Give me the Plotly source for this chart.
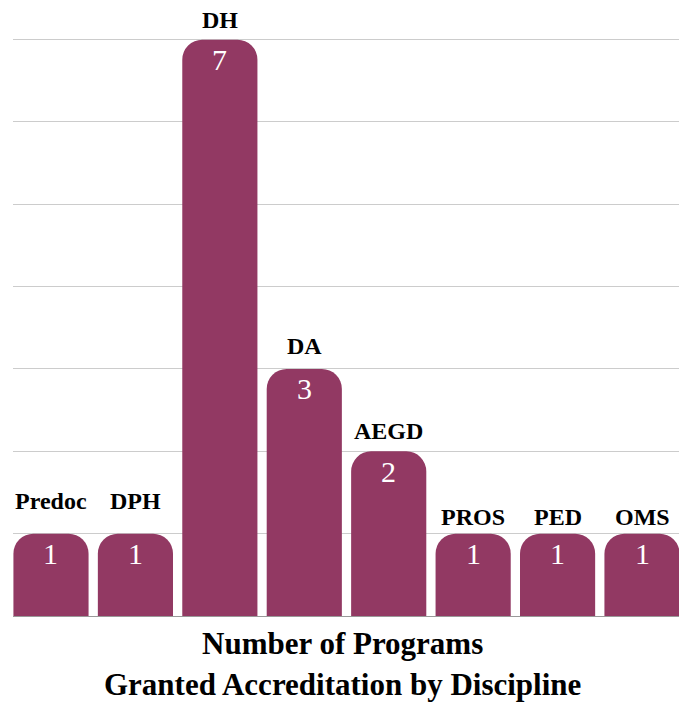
import plotly.graph_objects as go

categories = ["Predoc", "DPH", "DH", "DA", "AEGD", "PROS", "PED", "OMS"]
values = [1, 1, 7, 3, 2, 1, 1, 1]
title_lines = ["Number of Programs", "Granted Accreditation by Discipline"]

bar_color = "#923963"
serif = "Liberation Serif"
label_shift = [33, 33, 20, 23, 20, 17, 17, 17]

fig = go.Figure()
fig.add_trace(go.Bar(
    x=categories, y=values,
    marker=dict(color=bar_color, cornerradius=20, line=dict(width=0)),
    hoverinfo="skip",
))

annotations = []
for c, v, s in zip(categories, values, label_shift):
    annotations.append(dict(
        x=c, y=v, xref="x", yref="y", text=c, showarrow=False,
        yanchor="middle", yshift=s,
        font=dict(family=serif, size=24, color="black", weight="bold"),
    ))
    annotations.append(dict(
        x=c, y=v, xref="x", yref="y", text=str(v), showarrow=False,
        yanchor="middle", yshift=-20,
        font=dict(family=serif, size=30, color="white"),
    ))
for txt, yy in zip(title_lines, [-0.047, -0.118]):
    annotations.append(dict(
        text=txt, xref="paper", yref="paper", x=0.494, y=yy,
        yanchor="middle", showarrow=False,
        font=dict(family=serif, size=31, color="black", weight="bold"),
    ))

fig.update_layout(
    width=679, height=696,
    margin=dict(l=5, r=7, t=30, b=88),
    plot_bgcolor="white", paper_bgcolor="white",
    showlegend=False, bargap=0.11,
    xaxis=dict(range=[-0.45, 7.45], showticklabels=False, showgrid=False,
               zeroline=False, showline=False, ticks=""),
    yaxis=dict(range=[0, 7.02], dtick=1, showticklabels=False,
               gridcolor="#cccccc", gridwidth=1, zeroline=True,
               zerolinecolor="#999999", zerolinewidth=1, ticks=""),
    annotations=annotations,
)
fig.write_html("out.html")
